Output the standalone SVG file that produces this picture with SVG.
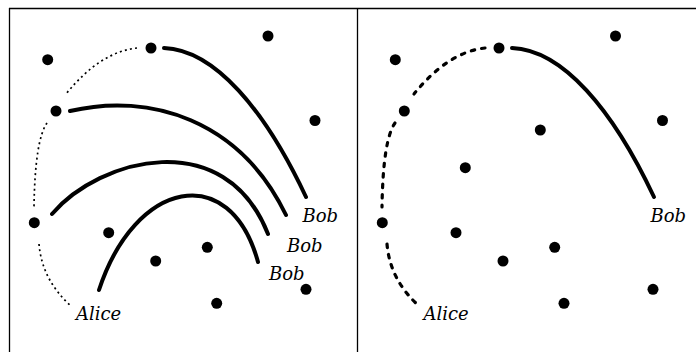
<svg xmlns="http://www.w3.org/2000/svg" width="696" height="352" viewBox="0 0 696 352">
<style>
.frame{stroke:#000;stroke-width:1.3;fill:none}
.dot{fill:#000}
.path{fill:none;stroke:#000;stroke-width:4;stroke-linecap:round}
.dotted{fill:none;stroke:#000;stroke-width:1.7;stroke-dasharray:2 3.2}
.dashed{fill:none;stroke:#000;stroke-width:3.2;stroke-linecap:round;stroke-dasharray:3.5 7}
.lbl{font-family:"DejaVu Serif",serif;font-style:italic;font-size:18px;fill:#000}
</style>
<rect width="696" height="352" fill="#fff"/>
<g id="frame">
<line class="frame" x1="9" y1="8.5" x2="696" y2="8.5"/>
<line class="frame" x1="9.5" y1="8" x2="9.5" y2="352"/>
<line class="frame" x1="357.5" y1="8" x2="357.5" y2="352"/>
</g>
<g id="connectors">
<path class="dotted" d="M137,48 Q100,52 66,94"/>
<path class="dotted" d="M47,123 Q35,140 34,207"/>
<path class="dotted" d="M39,244 Q42,280 71,306"/>
<path class="path" d="M164,48 C215,50 265,110 306,197"/>
<path class="path" d="M70,111 C150,92 240,120 286,215"/>
<path class="path" d="M52,214 C100,158 225,125 268,234"/>
<path class="path" d="M99,290 C135,180 230,160 258,262"/>
<path class="dashed" d="M485,48 Q448,52 414,94"/>
<path class="dashed" d="M395,123 Q383,140 382,207"/>
<path class="dashed" d="M387,244 Q390,280 419,306"/>
<path class="path" d="M512,48 C563,50 613,110 654,197"/>
</g>
<g id="left-nodes">
<g id="L1"><circle class="dot" cx="47.7" cy="59.7" r="5.5"/></g>
<g id="L2"><circle class="dot" cx="151" cy="48" r="5.5"/></g>
<g id="L3"><circle class="dot" cx="268" cy="36" r="5.5"/></g>
<g id="L4"><circle class="dot" cx="56" cy="111" r="5.5"/></g>
<g id="L5"><circle class="dot" cx="315" cy="120.5" r="5.5"/></g>
<g id="L6"><circle class="dot" cx="34.3" cy="222.7" r="5.5"/></g>
<g id="L7"><circle class="dot" cx="108.7" cy="232.7" r="5.5"/></g>
<g id="L8"><circle class="dot" cx="207.3" cy="247.3" r="5.5"/></g>
<g id="L9"><circle class="dot" cx="155.7" cy="261" r="5.5"/></g>
<g id="L10"><circle class="dot" cx="216.7" cy="303.3" r="5.5"/></g>
<g id="L11"><circle class="dot" cx="306" cy="289.3" r="5.5"/></g>
</g>
<g id="right-nodes">
<g id="R1"><circle class="dot" cx="395.3" cy="59.7" r="5.5"/></g>
<g id="R2"><circle class="dot" cx="499" cy="48" r="5.5"/></g>
<g id="R3"><circle class="dot" cx="615.5" cy="36" r="5.5"/></g>
<g id="R4"><circle class="dot" cx="404.3" cy="111" r="5.5"/></g>
<g id="R5"><circle class="dot" cx="662.5" cy="120.5" r="5.5"/></g>
<g id="R6"><circle class="dot" cx="540.3" cy="130" r="5.5"/></g>
<g id="R7"><circle class="dot" cx="465.3" cy="167.7" r="5.5"/></g>
<g id="R8"><circle class="dot" cx="382.3" cy="222.7" r="5.5"/></g>
<g id="R9"><circle class="dot" cx="456" cy="232.7" r="5.5"/></g>
<g id="R10"><circle class="dot" cx="554.7" cy="247.3" r="5.5"/></g>
<g id="R11"><circle class="dot" cx="503" cy="261" r="5.5"/></g>
<g id="R12"><circle class="dot" cx="564" cy="303.3" r="5.5"/></g>
<g id="R13"><circle class="dot" cx="653" cy="289.3" r="5.5"/></g>
</g>
<g id="labels">
<text class="lbl" x="302.5" y="221.5">Bob</text>
<text class="lbl" x="287" y="251.5">Bob</text>
<text class="lbl" x="269" y="280">Bob</text>
<text class="lbl" x="76" y="320">Alice</text>
<text class="lbl" x="650.5" y="221.5">Bob</text>
<text class="lbl" x="423.5" y="320">Alice</text>
</g>
</svg>
